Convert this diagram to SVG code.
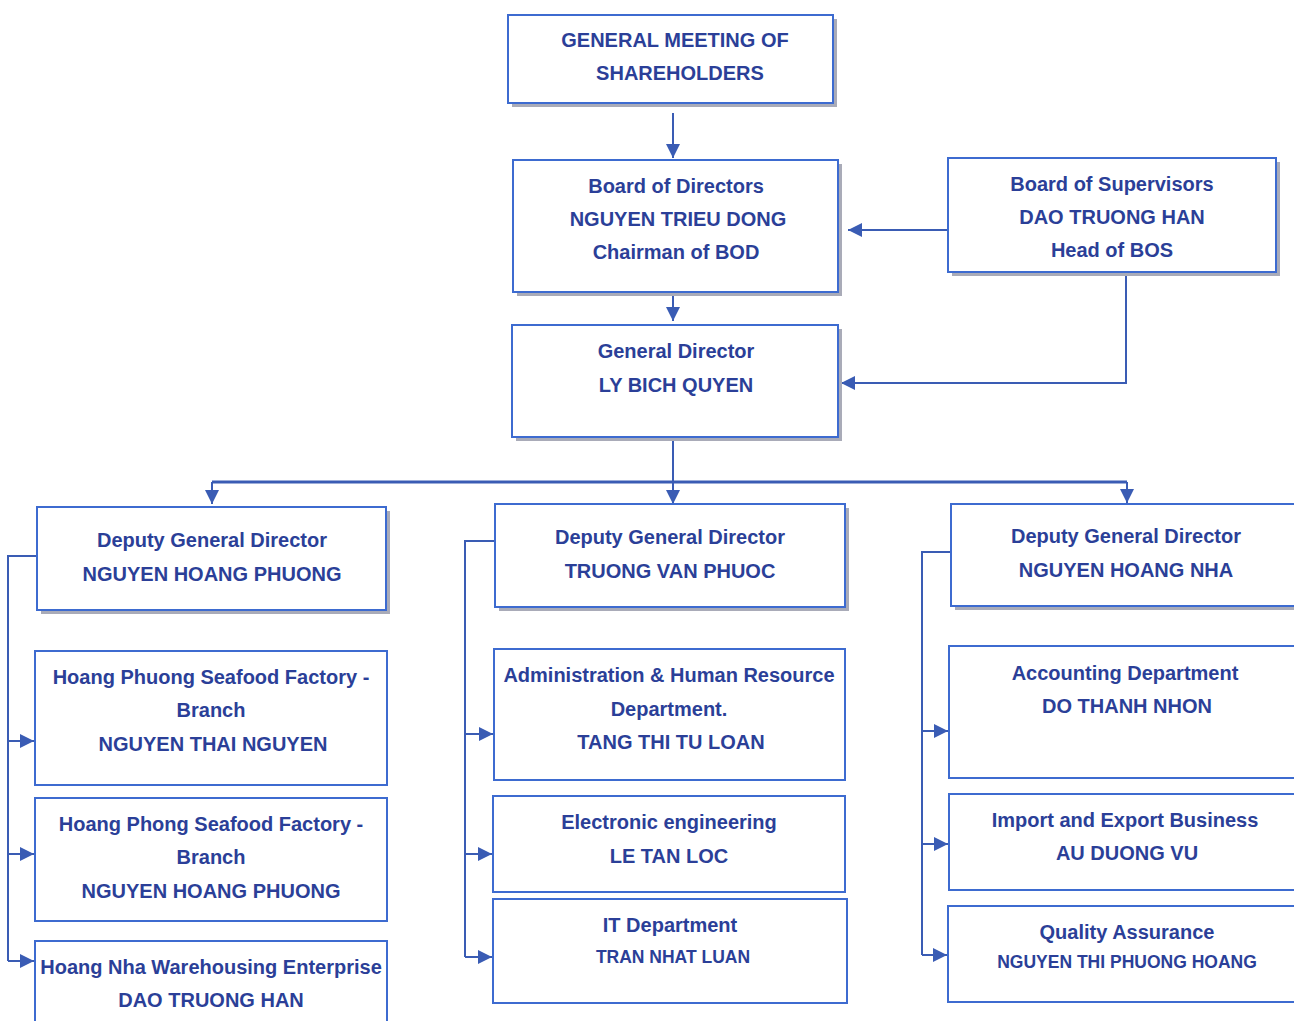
<svg xmlns="http://www.w3.org/2000/svg" width="1294" height="1021" viewBox="0 0 1294 1021">
<defs>
<style>
.sh{fill:#a9abb8}
.bx{fill:#ffffff;stroke:#3d6bd0;stroke-width:2}
.t{font-family:"Liberation Sans",Arial,sans-serif;font-weight:bold;font-size:20px;fill:#2b3f98;text-anchor:middle}
.s{font-size:17.5px}
.c{fill:none;stroke:#3a5cb4;stroke-width:2}
</style>
<marker id="ah2" viewBox="0 0 10 10" refX="10" refY="5" markerWidth="14" markerHeight="14" markerUnits="userSpaceOnUse" orient="auto">
<path d="M0,0 L10,5 L0,10 z" fill="#3a5cb4"/>
</marker>
</defs>
<rect width="1294" height="1021" fill="#ffffff"/>

<g id="connectors">
<path class="c" d="M673,113 V158" marker-end="url(#ah2)"/>
<path class="c" d="M948,230 H848" marker-end="url(#ah2)"/>
<path class="c" d="M673,274 V321" marker-end="url(#ah2)"/>
<path class="c" d="M1126,272 V383 H841" marker-end="url(#ah2)"/>
<path class="c" d="M673,440 V504" marker-end="url(#ah2)"/>
<path class="c" style="stroke-width:3" d="M212,482 H1127"/>
<path class="c" d="M212,482 V504" marker-end="url(#ah2)"/>
<path class="c" d="M1127,482 V503" marker-end="url(#ah2)"/>
<path class="c" d="M37,556 H8 V961"/>
<path class="c" d="M8,741 H34" marker-end="url(#ah2)"/>
<path class="c" d="M8,854 H34" marker-end="url(#ah2)"/>
<path class="c" d="M8,961 H34" marker-end="url(#ah2)"/>
<path class="c" d="M495,541 H465 V957"/>
<path class="c" d="M465,734 H493" marker-end="url(#ah2)"/>
<path class="c" d="M465,854 H492" marker-end="url(#ah2)"/>
<path class="c" d="M465,957 H492" marker-end="url(#ah2)"/>
<path class="c" d="M951,552 H922 V955"/>
<path class="c" d="M922,731 H948" marker-end="url(#ah2)"/>
<path class="c" d="M922,844 H948" marker-end="url(#ah2)"/>
<path class="c" d="M922,955 H947" marker-end="url(#ah2)"/>
</g>

<g id="gms">
<rect class="sh" x="512" y="19" width="325" height="88"/>
<rect class="bx" x="508" y="15" width="325" height="88"/>
<text class="t" x="675" y="47">GENERAL MEETING OF</text>
<text class="t" x="680" y="80">SHAREHOLDERS</text>
</g>

<g id="bod">
<rect class="sh" x="517" y="164" width="325" height="132"/>
<rect class="bx" x="513" y="160" width="325" height="132"/>
<text class="t" x="676" y="193">Board of Directors</text>
<text class="t" x="678" y="226">NGUYEN TRIEU DONG</text>
<text class="t" x="676" y="259">Chairman of BOD</text>
</g>

<g id="bos">
<rect class="sh" x="952" y="162" width="328" height="114"/>
<rect class="bx" x="948" y="158" width="328" height="114"/>
<text class="t" x="1112" y="191">Board of Supervisors</text>
<text class="t" x="1112" y="224">DAO TRUONG HAN</text>
<text class="t" x="1112" y="257">Head of BOS</text>
</g>

<g id="gd">
<rect class="sh" x="516" y="329" width="326" height="112"/>
<rect class="bx" x="512" y="325" width="326" height="112"/>
<text class="t" x="676" y="358">General Director</text>
<text class="t" x="676" y="392">LY BICH QUYEN</text>
</g>

<g id="dgd1">
<rect class="sh" x="41" y="511" width="349" height="103"/>
<rect class="bx" x="37" y="507" width="349" height="103"/>
<text class="t" x="212" y="547">Deputy General Director</text>
<text class="t" x="212" y="581">NGUYEN HOANG PHUONG</text>
</g>

<g id="dgd2">
<rect class="sh" x="499" y="508" width="350" height="103"/>
<rect class="bx" x="495" y="504" width="350" height="103"/>
<text class="t" x="670" y="544">Deputy General Director</text>
<text class="t" x="670" y="578">TRUONG VAN PHUOC</text>
</g>

<g id="dgd3">
<rect class="sh" x="955" y="508" width="345" height="102"/>
<rect class="bx" x="951" y="504" width="350" height="102"/>
<text class="t" x="1126" y="543">Deputy General Director</text>
<text class="t" x="1126" y="577">NGUYEN HOANG NHA</text>
</g>

<g id="a1">
<rect class="bx" x="35" y="651" width="352" height="134"/>
<text class="t" x="211" y="684">Hoang Phuong Seafood Factory -</text>
<text class="t" x="211" y="717">Branch</text>
<text class="t" x="213" y="751">NGUYEN THAI NGUYEN</text>
</g>

<g id="a2">
<rect class="bx" x="35" y="798" width="352" height="123"/>
<text class="t" x="211" y="831">Hoang Phong Seafood Factory -</text>
<text class="t" x="211" y="864">Branch</text>
<text class="t" x="211" y="898">NGUYEN HOANG PHUONG</text>
</g>

<g id="a3">
<rect class="bx" x="35" y="941" width="352" height="90"/>
<text class="t" x="211" y="974">Hoang Nha Warehousing Enterprise</text>
<text class="t" x="211" y="1007">DAO TRUONG HAN</text>
</g>

<g id="b1">
<rect class="bx" x="494" y="649" width="351" height="131"/>
<text class="t" x="669" y="682">Administration &amp; Human Resource</text>
<text class="t" x="669" y="716">Department.</text>
<text class="t" x="671" y="749">TANG THI TU LOAN</text>
</g>

<g id="b2">
<rect class="bx" x="493" y="796" width="352" height="96"/>
<text class="t" x="669" y="829">Electronic engineering</text>
<text class="t" x="669" y="863">LE TAN LOC</text>
</g>

<g id="b3">
<rect class="bx" x="493" y="899" width="354" height="104"/>
<text class="t" x="670" y="932">IT Department</text>
<text class="t s" x="673" y="963">TRAN NHAT LUAN</text>
</g>

<g id="c1">
<rect class="bx" x="949" y="646" width="352" height="132"/>
<text class="t" x="1125" y="680">Accounting Department</text>
<text class="t" x="1127" y="713">DO THANH NHON</text>
</g>

<g id="c2">
<rect class="bx" x="949" y="794" width="352" height="96"/>
<text class="t" x="1125" y="827">Import and Export Business</text>
<text class="t" x="1127" y="860">AU DUONG VU</text>
</g>

<g id="c3">
<rect class="bx" x="948" y="906" width="353" height="96"/>
<text class="t" x="1127" y="939">Quality Assurance</text>
<text class="t s" x="1127" y="968">NGUYEN THI PHUONG HOANG</text>
</g>
</svg>
